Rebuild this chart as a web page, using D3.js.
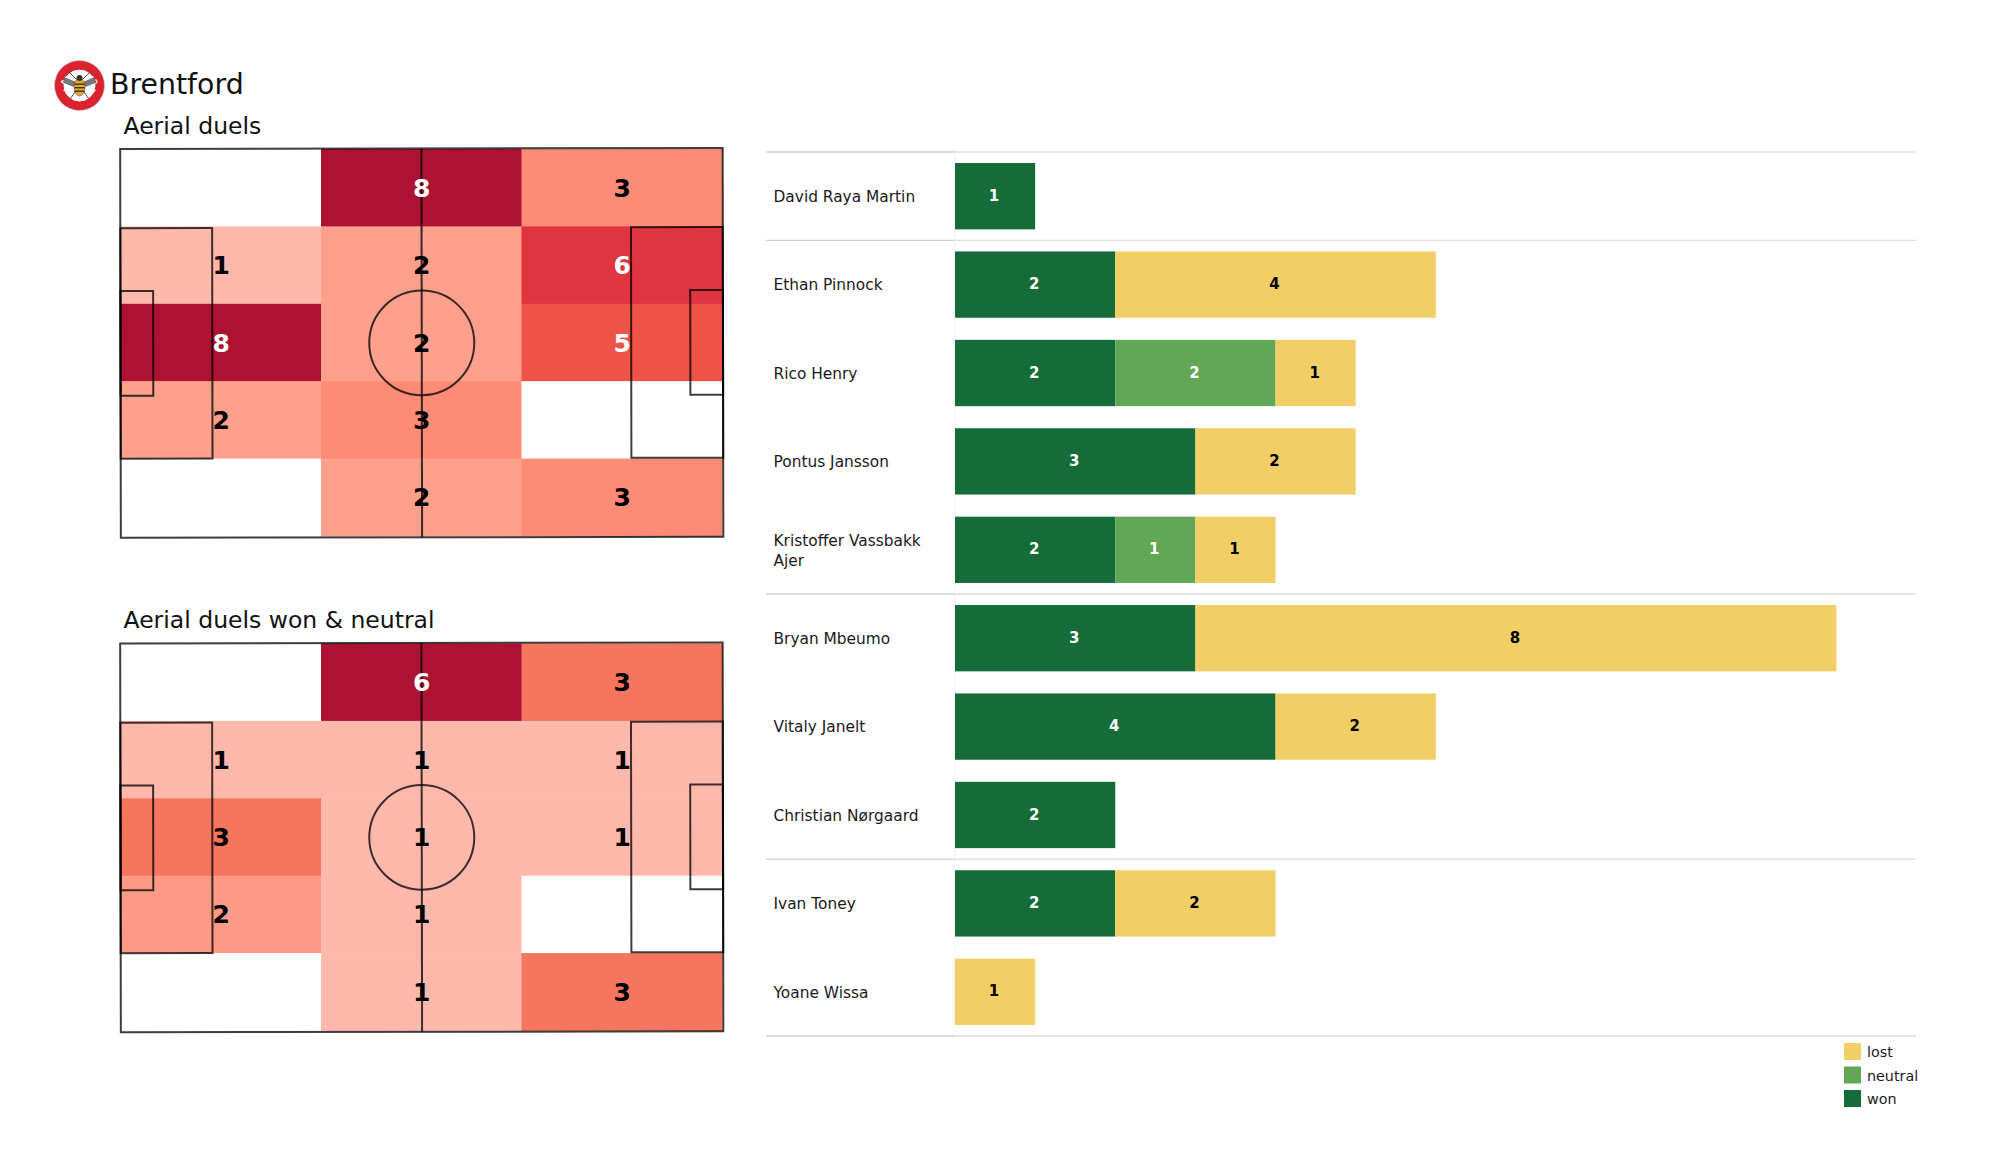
<!DOCTYPE html>
<html><head><meta charset="utf-8">
<script src="https://cdn.jsdelivr.net/npm/d3@7/dist/d3.min.js"></script>
<style>html,body{margin:0;background:#fff}svg{display:block}text{font-family:"DejaVu Sans",sans-serif}</style>
</head><body><svg id="c" width="2000" height="1175"></svg>
<script>
const teamName = "Brentford";
const panelTitles = ["Aerial duels", "Aerial duels won & neutral"];
const allDuels = [[0,8,3],[1,2,6],[8,2,5],[2,3,0],[0,2,3]];
const wonNeutralDuels = [[0,6,3],[1,1,1],[3,1,1],[2,1,0],[0,1,3]];
const allColors = {0:"#ffffff",1:"#ffb9ac",2:"#fea08c",3:"#fd8b75",5:"#ee5348",6:"#e03540",8:"#ae1233"};
const wonColors = {0:"#ffffff",1:"#ffb9ac",2:"#fc9a85",3:"#f6755e",6:"#ae1233"};
const players = ["David Raya Martin","Ethan Pinnock","Rico Henry","Pontus Jansson","Kristoffer Vassbakk Ajer","Bryan Mbeumo","Vitaly Janelt","Christian Nørgaard","Ivan Toney","Yoane Wissa"];
const won = [1,2,2,3,2,3,4,2,2,0];
const neutral = [0,0,2,0,1,0,0,0,0,0];
const lost = [0,4,1,2,1,8,2,0,2,1];
const groupEnds = [0,4,7,9];
const legendKeys = ["lost","neutral","won"];
const legendColors = ["#f2cf66","#62a756","#156c38"];

const svg = d3.select("#c");
svg.append("text").attr("x",110).attr("y",94).attr("font-size",28.4).attr("fill","#111").text(teamName);

// crest
const crest = svg.append("g").attr("transform","translate(79.5,85.5)");
crest.append("circle").attr("r",25).attr("fill","#d9232e").attr("stroke","#c4c4c4").attr("stroke-width",.6);
crest.append("circle").attr("r",15.5).attr("fill","#fff").attr("stroke","#f3f3f3");
const defs = svg.append("defs");
defs.append("path").attr("id","arcT").attr("d","M-17.5,4 A18,18 0 0 1 17.5,4");
defs.append("path").attr("id","arcB").attr("d","M-20,-3 A20.5,20.5 0 0 0 20,-3");
crest.append("text").attr("font-size",5.5).attr("font-weight",700).attr("fill","#fff").attr("text-anchor","middle")
  .append("textPath").attr("href","#arcT").attr("startOffset","50%").text("BRENTFORD");
crest.append("text").attr("font-size",4.2).attr("font-weight",700).attr("fill","#fff").attr("text-anchor","middle")
  .append("textPath").attr("href","#arcB").attr("startOffset","50%").text("FOOTBALL CLUB");
[-1,1].forEach(s=>{
  crest.append("path").attr("d",`M${s*3},-3 L${s*15},-8 L${s*16},-3 L${s*6},1 Z`).attr("fill","#77787b").attr("stroke","#333").attr("stroke-width",.4);
  crest.append("path").attr("d",`M${s*2},3 L${s*9},13 M${s*3},-6 L${s*10},-13`).attr("stroke","#3a3a3a").attr("stroke-width",.9).attr("fill","none");
});
crest.append("ellipse").attr("cy",1.5).attr("rx",5.5).attr("ry",9).attr("fill","#e6a92f").attr("stroke","#4a3a20").attr("stroke-width",.5);
[-2,1.5,5].forEach(y=>crest.append("rect").attr("x",-5).attr("y",y).attr("width",10).attr("height",1.4).attr("fill","#3c3020"));
crest.append("circle").attr("cy",-7.5).attr("r",3).attr("fill","#3a3226");

// pitches
function pitch(top, title, grid, colors){
  const g = svg.append("g");
  const ph = 387.5;
  g.append("text").attr("x",123.5).attr("y",top-15.5).attr("font-size",23.5).attr("fill","#111").text(title);
  const x = d3.scaleBand().domain(d3.range(3)).range([120.5,722]);
  const y = d3.scaleBand().domain(d3.range(5)).range([top,top+ph-.5]);
  const cells = grid.flatMap((r,i)=>r.map((v,j)=>({v,i,j})));
  g.selectAll("rect.h").data(cells).join("rect").attr("class","h")
    .attr("x",d=>x(d.j)).attr("y",d=>y(d.i)).attr("width",x.bandwidth()+.5).attr("height",y.bandwidth()+.5)
    .attr("fill",d=>colors[d.v]);
  const px = d3.scaleLinear().domain([0,105]).range([120.5,723]);
  const py = d3.scaleLinear().domain([0,68]).range([top-.5,top+ph+.8]);
  const l = g.append("g").attr("fill","none").attr("stroke","#000").attr("stroke-opacity",.76).attr("stroke-width",2)
     .attr("transform",`rotate(-0.1 420 ${top+190})`);
  const box=(a,b,c,d)=>l.append("rect").attr("x",px(a)).attr("y",py(c)).attr("width",px(b)-px(a)).attr("height",py(d)-py(c));
  box(0,105,0,68);
  box(0,16,13.84,54.16); box(89,105,13.84,54.16);
  box(0,5.7,24.84,43.16); box(99.3,105,24.84,43.16);
  l.append("line").attr("x1",px(52.5)).attr("x2",px(52.5)).attr("y1",py(0)).attr("y2",py(68));
  l.append("ellipse").attr("cx",px(52.5)).attr("cy",py(34)).attr("rx",px(9.15)-px(0)).attr("ry",py(9.15)-py(0));
  g.selectAll("text.v").data(cells.filter(d=>d.v>0)).join("text").attr("class","v")
    .attr("x",d=>x(d.j)+x.bandwidth()/2+.5).attr("y",d=>y(d.i)+y.bandwidth()/2+.5)
    .attr("text-anchor","middle").attr("dominant-baseline","central")
    .attr("font-size",25).attr("font-weight",700)
    .attr("fill",d=>d.v>=5&&colors[d.v]!==colors[3]?"#fff":"#000").text(d=>d.v);
}
pitch(149, panelTitles[0], allDuels, allColors);
pitch(643.5, panelTitles[1], wonNeutralDuels, wonColors);

// bars
const xB = d3.scaleLinear().domain([0,11]).range([955,1836.5]);
const yB = d3.scaleBand().domain(players).range([152,1036]).paddingInner(.25).paddingOuter(.125);
const step = yB.step();
const bars = svg.append("g");
const sepY = i=> yB(players[i])+yB.bandwidth()+ (step-yB.bandwidth())/2;
const seps = [yB(players[0])-(step-yB.bandwidth())/2, ...groupEnds.map(sepY)];
bars.selectAll("line.s").data(seps).join("line").attr("x1",955).attr("x2",1916).attr("y1",d=>d).attr("y2",d=>d).attr("stroke","#dddddd").attr("stroke-width",1.3);
bars.selectAll("line.s2").data(seps).join("line").attr("x1",766).attr("x2",955).attr("y1",d=>d).attr("y2",d=>d).attr("stroke","#cfcfcf").attr("stroke-width",1.3);
bars.append("line").attr("x1",955).attr("x2",955).attr("y1",seps[0]).attr("y2",seps[seps.length-1]).attr("stroke","#f1f1f1").attr("stroke-width",1);
const stack = d3.stack().keys(["won","neutral","lost"])(players.map((p,i)=>({p,won:won[i],neutral:neutral[i],lost:lost[i]})));
const color = d3.scaleOrdinal().domain(legendKeys).range(legendColors);
stack.forEach(s=>{
  const seg = bars.append("g").selectAll("g").data(s.filter(d=>d[1]>d[0])).join("g");
  seg.append("rect").attr("x",d=>xB(d[0])).attr("width",d=>xB(d[1])-xB(d[0])).attr("y",d=>yB(d.data.p)).attr("height",yB.bandwidth()).attr("fill",color(s.key));
  seg.append("text").attr("x",d=>(xB(d[0])+xB(d[1]))/2-1).attr("y",d=>yB(d.data.p)+yB.bandwidth()/2-.5)
    .attr("text-anchor","middle").attr("dominant-baseline","central").attr("font-size",15).attr("font-weight",700)
    .attr("fill",s.key==="lost"?"#000":"#fff").text(d=>d[1]-d[0]);
});
const wrapped = {"Kristoffer Vassbakk Ajer":["Kristoffer Vassbakk","Ajer"]};
players.forEach(p=>{
  const lines = wrapped[p]||[p];
  const cy = yB(p)+yB.bandwidth()/2+.7;
  lines.forEach((t,i)=>svg.append("text").attr("x",773.5).attr("y",cy+(i-(lines.length-1)/2)*20).attr("dominant-baseline","central")
    .attr("font-size",15.4).attr("fill","#1a1a1a").text(t));
});
const yL = d3.scalePoint().domain(legendKeys).range([1051.5,1098.5]);
const lg = svg.append("g").selectAll("g").data(legendKeys).join("g").attr("transform",d=>`translate(1844,${yL(d)})`);
lg.append("rect").attr("x",0).attr("y",-8.5).attr("width",17).attr("height",17).attr("fill",d=>color(d));
lg.append("text").attr("x",23).attr("y",.5).attr("dominant-baseline","central").attr("font-size",14.3).attr("fill","#1a1a1a").text(d=>d);
</script></body></html>
